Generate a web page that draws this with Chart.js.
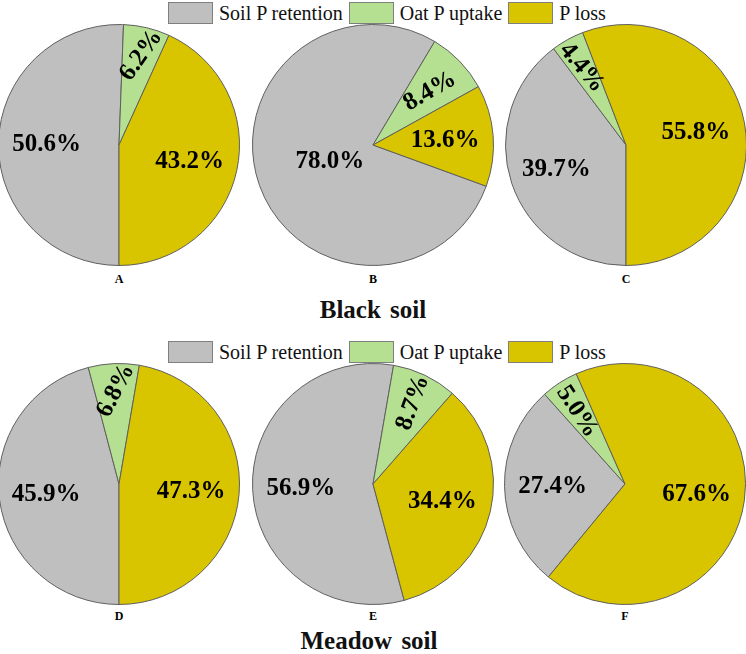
<!DOCTYPE html>
<html>
<head>
<meta charset="utf-8">
<script src="https://cdn.jsdelivr.net/npm/chart.js@4.4.1/dist/chart.umd.min.js"></script>
<style>
  html, body { margin: 0; padding: 0; background: #fff; }
  body { width: 746px; height: 654px; position: relative; overflow: hidden; font-family: "Liberation Serif", "Times New Roman", serif; }
  .pie { position: absolute; }
  .legend { position: absolute; display: flex; align-items: center; height: 22px; font-size: 20px; color: #111; }
  .legend .box { width: 43px; height: 20px; border: 1px solid #7f7f7f; margin-right: 6px; }
  .legend .lbl { margin-right: 6px; white-space: nowrap; }
  .panel { position: absolute; width: 40px; margin-left: -20px; text-align: center; font-weight: bold; font-size: 12px; }
  .title { position: absolute; left: 0; width: 746px; text-align: center; font-weight: bold; font-size: 25px; line-height: 25px; word-spacing: 3px; color: #111; }
</style>
</head>
<body>
<div class="legend" id="legend1" style="left:168px; top:2px;"></div>
<div class="legend" id="legend2" style="left:168px; top:341px;"></div>
<div class="title" style="top:297px;">Black soil</div>
<div class="title" style="top:628px; left:-4px;">Meadow soil</div>

<script>
// --- DATA ---
const categories = ['Soil P retention', 'Oat P uptake', 'P loss'];
const panels = ['A', 'B', 'C', 'D', 'E', 'F'];
const soilRetention = [50.6, 78.0, 39.7, 45.9, 56.9, 27.4];
const oatUptake = [6.2, 8.4, 4.4, 6.8, 8.7, 5.0];
const pLoss = [43.2, 13.6, 55.8, 47.3, 34.4, 67.6];

// --- STYLE ---
const colors = ['#BFBFBF', '#B5E092', '#D9C400'];
const centers = [[119, 145], [373, 145], [626, 145], [119, 484], [373, 484], [625, 484]];
const panelY = [280, 280, 280, 617, 617, 617];
const startAngles = [180, 110, 180, 180, 165, 219.5];
// label radius (fraction of pie radius) per slice, and rotation of each label
const labelRadius = [
  [0.6, 0.77, 0.6], [0.38, 0.65, 0.6], [0.61, 0.74, 0.59],
  [0.61, 0.78, 0.6], [0.6, 0.75, 0.59], [0.6, 0.72, 0.6]
];
const labelRotate = [
  [0, -55, 0], [0, -30, 0], [0, 50, 0],
  [0, -63, 0], [0, -70, 0], [0, 57, 0]
];
const size = 242;

// --- LEGENDS ---
['legend1', 'legend2'].forEach(id => {
  const el = document.getElementById(id);
  categories.forEach((c, i) => {
    el.innerHTML += `<div class="box" style="background:${colors[i]}"></div><div class="lbl">${c}</div>`;
  });
});

// --- LABEL PLUGIN ---
const pieLabels = {
  id: 'pieLabels',
  afterDatasetsDraw(chart, args, opts) {
    const ctx = chart.ctx;
    const meta = chart.getDatasetMeta(0);
    const values = chart.data.datasets[0].data;
    ctx.save();
    ctx.font = 'bold 25px "Liberation Serif", "Times New Roman", serif';
    ctx.fillStyle = '#000';
    ctx.textAlign = 'center';
    ctx.textBaseline = 'middle';
    meta.data.forEach((arc, i) => {
      const p = arc.getProps(['x', 'y', 'startAngle', 'endAngle', 'outerRadius'], true);
      const mid = (p.startAngle + p.endAngle) / 2;
      const r = p.outerRadius * opts.radius[i];
      ctx.save();
      ctx.translate(p.x + Math.cos(mid) * r, p.y + Math.sin(mid) * r);
      ctx.rotate(opts.rotate[i] * Math.PI / 180);
      ctx.fillText(values[i].toFixed(1) + '%', 0, 1);
      ctx.restore();
    });
    ctx.restore();
  }
};

// --- CHARTS ---
panels.forEach((name, k) => {
  const canvas = document.createElement('canvas');
  canvas.className = 'pie';
  canvas.width = size;
  canvas.height = size;
  canvas.style.left = (centers[k][0] - size / 2) + 'px';
  canvas.style.top = (centers[k][1] - size / 2) + 'px';
  document.body.appendChild(canvas);

  const lab = document.createElement('div');
  lab.className = 'panel';
  lab.textContent = name;
  lab.style.left = centers[k][0] + 'px';
  lab.style.top = (panelY[k] - 8) + 'px';
  document.body.appendChild(lab);

  new Chart(canvas, {
    type: 'pie',
    data: {
      labels: categories,
      datasets: [{
        data: [soilRetention[k], oatUptake[k], pLoss[k]],
        backgroundColor: colors,
        borderColor: '#5f5f5f',
        borderWidth: 1
      }]
    },
    options: {
      responsive: false,
      animation: false,
      rotation: startAngles[k],
      layout: { padding: 0 },
      plugins: {
        legend: { display: false },
        tooltip: { enabled: false },
        pieLabels: { radius: labelRadius[k], rotate: labelRotate[k] }
      }
    },
    plugins: [pieLabels]
  });
});
</script>
</body>
</html>
